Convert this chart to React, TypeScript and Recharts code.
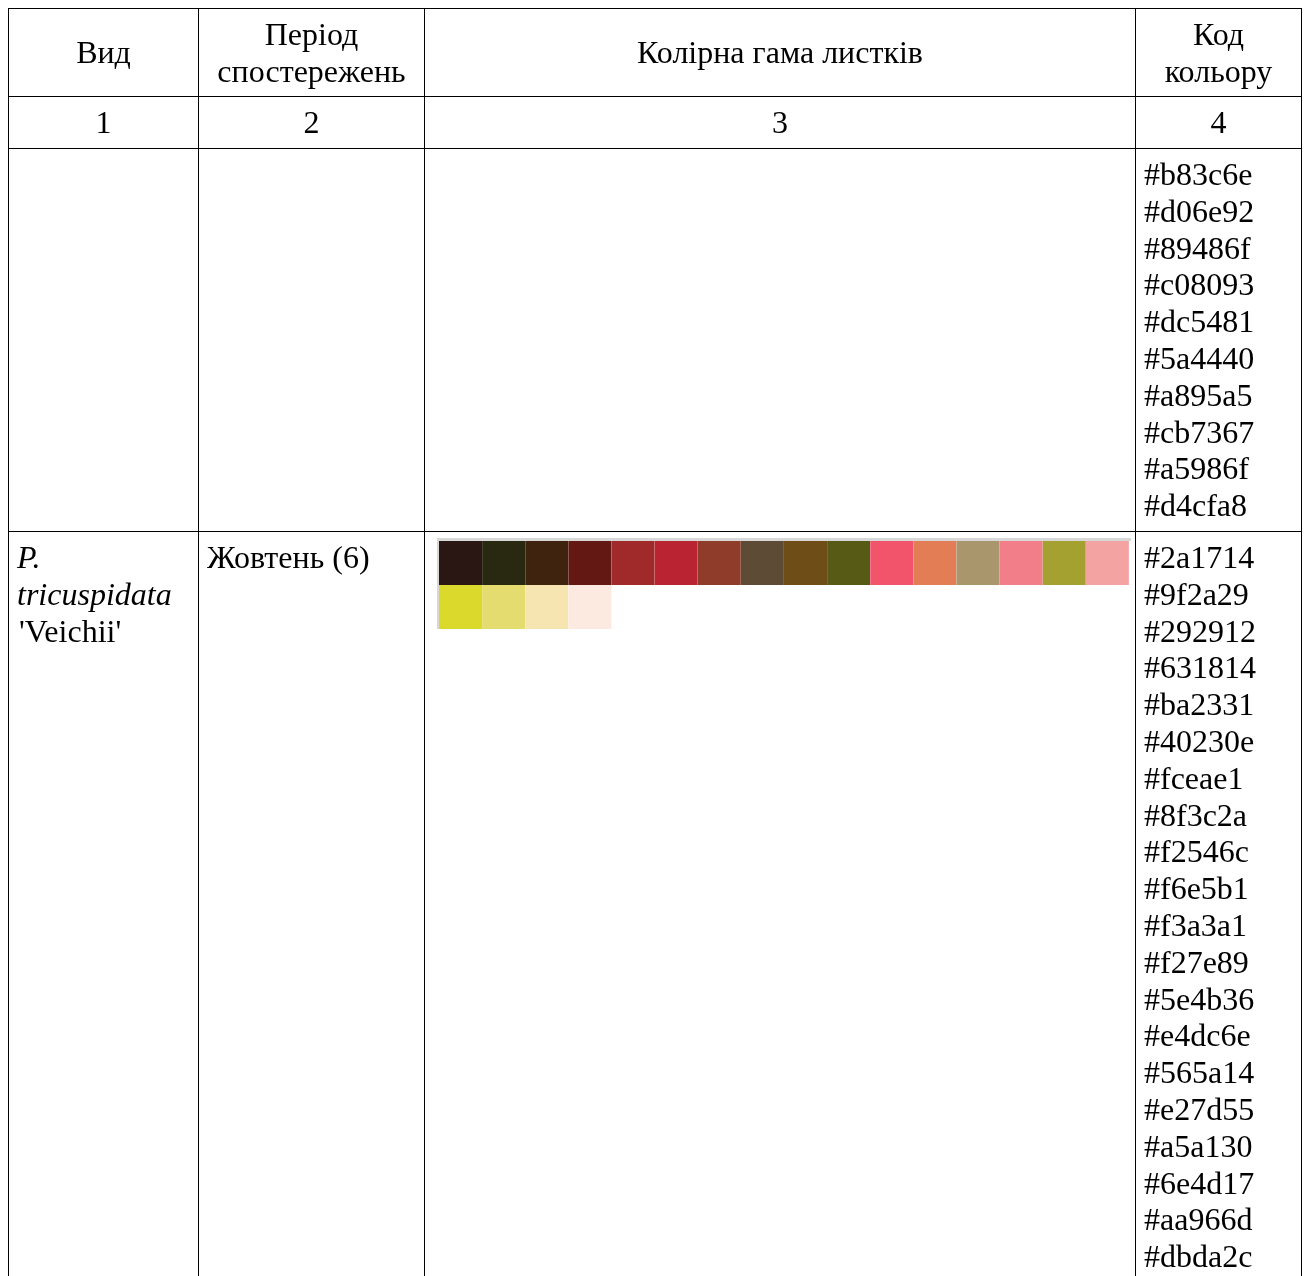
import React from 'react';
import { BarChart, Bar, XAxis, YAxis, Cell } from 'recharts';

const headers = ['Вид', 'Період спостережень', 'Колірна гама листків', 'Код кольору'];
const columnNumbers = ['1', '2', '3', '4'];

const prevCodes = [
  '#b83c6e', '#d06e92', '#89486f', '#c08093', '#dc5481',
  '#5a4440', '#a895a5', '#cb7367', '#a5986f', '#d4cfa8',
];

const veichiiCodes = [
  '#2a1714', '#9f2a29', '#292912', '#631814', '#ba2331',
  '#40230e', '#fceae1', '#8f3c2a', '#f2546c', '#f6e5b1',
  '#f3a3a1', '#f27e89', '#5e4b36', '#e4dc6e', '#565a14',
  '#e27d55', '#a5a130', '#6e4d17', '#aa966d', '#dbda2c',
];

// swatch strip, as laid out in the picture
const topRowColors = [
  '#2a1714', '#292912', '#40230e', '#631814', '#9f2a29', '#ba2331',
  '#8f3c2a', '#5e4b36', '#6e4d17', '#565a14', '#f2546c', '#e27d55',
  '#aa966d', '#f27e89', '#a5a130', '#f3a3a1',
];
const bottomRowColors = ['#dbda2c', '#e4dc6e', '#f6e5b1', '#fceae1'];

const swatchData = topRowColors.map((c, i) => ({
  idx: i,
  top: 1,
  bottom: i < bottomRowColors.length ? 1 : 0,
}));

const font = '"Liberation Serif", "DejaVu Serif", serif';

const cell: React.CSSProperties = {
  border: '1px solid #000',
  padding: '7px 8px',
  fontSize: 32,
  lineHeight: '36.8px',
  color: '#000',
  boxSizing: 'border-box',
};

const SwatchStrip: React.FC = () => (
  <div
    style={{
      width: 692,
      borderTop: '3px solid #d8d8d8',
      borderLeft: '2px solid #d8d8d8',
      marginLeft: 4,
      marginTop: -1,
    }}
  >
    <BarChart
      width={690}
      height={88}
      data={swatchData}
      margin={{ top: 0, right: 0, bottom: 0, left: 0 }}
      barCategoryGap={0}
      barGap={0}
    >
      <XAxis dataKey="idx" hide />
      <YAxis hide domain={[0, 2]} reversed />
      <Bar dataKey="top" stackId="s" isAnimationActive={false}>
        {topRowColors.map((c, i) => (
          <Cell key={i} fill={c} />
        ))}
      </Bar>
      <Bar dataKey="bottom" stackId="s" isAnimationActive={false}>
        {swatchData.map((d, i) => (
          <Cell key={i} fill={bottomRowColors[i] || 'transparent'} />
        ))}
      </Bar>
    </BarChart>
  </div>
);

const App: React.FC = () => {
  return (
    <div
      style={{
        position: 'fixed',
        left: 8,
        top: 8,
        width: 1296,
        height: 1268,
        overflow: 'hidden',
        fontFamily: font,
      }}
    >
      <table
        style={{
          borderCollapse: 'collapse',
          tableLayout: 'fixed',
          width: 1293,
          fontFamily: font,
        }}
      >
        <colgroup>
          <col style={{ width: 190 }} />
          <col style={{ width: 226 }} />
          <col style={{ width: 711 }} />
          <col style={{ width: 166 }} />
        </colgroup>
        <tbody>
          <tr style={{ height: 88 }}>
            {headers.map((h, i) => (
              <td
                key={i}
                style={{ ...cell, padding: '6px 8px', textAlign: 'center', verticalAlign: 'middle' }}
              >
                {h}
              </td>
            ))}
          </tr>
          <tr style={{ height: 52 }}>
            {columnNumbers.map((n, i) => (
              <td key={i} style={{ ...cell, textAlign: 'center', verticalAlign: 'middle' }}>
                {n}
              </td>
            ))}
          </tr>
          <tr>
            <td style={{ ...cell, verticalAlign: 'top' }}></td>
            <td style={{ ...cell, verticalAlign: 'top' }}></td>
            <td style={{ ...cell, verticalAlign: 'top' }}></td>
            <td style={{ ...cell, verticalAlign: 'top' }}>
              {prevCodes.map((c) => (
                <div key={c}>{c}</div>
              ))}
            </td>
          </tr>
          <tr>
            <td style={{ ...cell, verticalAlign: 'top' }}>
              <i>P.</i>
              <br />
              <i>tricuspidata</i>
              <br />
              <span style={{ marginLeft: 2 }}>'Veichii'</span>
            </td>
            <td style={{ ...cell, verticalAlign: 'top' }}>Жовтень (6)</td>
            <td style={{ ...cell, verticalAlign: 'top' }}>
              <SwatchStrip />
            </td>
            <td style={{ ...cell, verticalAlign: 'top' }}>
              {veichiiCodes.map((c) => (
                <div key={c}>{c}</div>
              ))}
            </td>
          </tr>
        </tbody>
      </table>
    </div>
  );
};

export default App;
